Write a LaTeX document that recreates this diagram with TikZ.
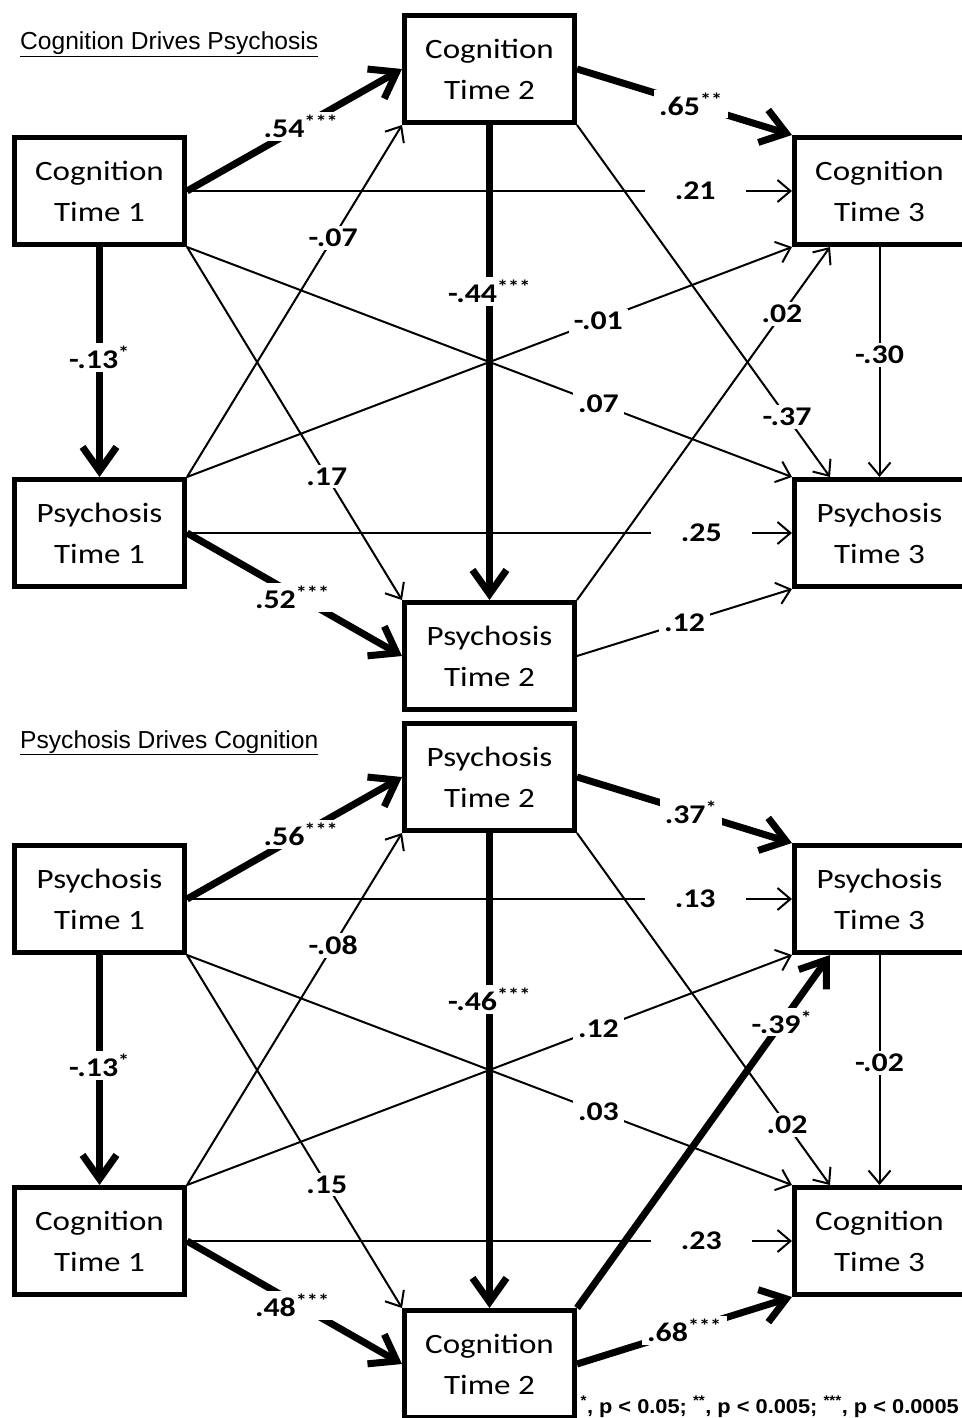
\documentclass[tikz,border=0pt]{standalone}
\usepackage{fontspec}
\setmainfont{Carlito}[FakeStretch=1.18]
\newfontfamily\titlefont{Liberation Sans}
\newfontfamily\notefont{Liberation Sans}[FakeStretch=1.09]
\usetikzlibrary{arrows.meta}

\begin{document}
\begin{tikzpicture}[x=1pt,y=-1pt]
  \tikzstyle{box}=[draw,line width=5pt,minimum width=170pt,minimum height=107pt,align=center,inner sep=0pt,font=\fontsize{28}{41}\selectfont]
  \tikzstyle{weak}=[line width=2pt,-{Straight Barb[length=13pt,width=22pt]}]
  \tikzstyle{strong}=[line width=7pt,-{Straight Barb[length=24pt,width=34pt]}]
  \tikzstyle{coef}=[fill=white,inner xsep=5pt,inner ysep=3pt,font=\fontsize{27}{30}\selectfont\bfseries]
  \tikzstyle{hcoef}=[coef,inner xsep=30pt]
  \tikzstyle{heading}=[anchor=base west,inner sep=0pt,font=\titlefont\fontsize{24.6}{28}\selectfont]
  \useasboundingbox (0,0) rectangle (961,1418);

  % cognition drives psychosis
  \node [heading] (title1) at (20,50) {\underline{Cognition Drives Psychosis}};
  \begin{scope}
    \node [box] (c1) at (99.5,191) {Cognition\\Time 1};
    \node [box] (c2) at (489.5,69) {Cognition\\Time 2};
    \node [box] (c3) at (879.5,191) {Cognition\\Time 3};
    \node [box] (p1) at (99.5,533) {Psychosis\\Time 1};
    \node [box] (p2) at (489.5,656) {Psychosis\\Time 2};
    \node [box] (p3) at (879.5,533) {Psychosis\\Time 3};
    \path (c1.east) edge [weak] node[hcoef,pos=.84] {.21} (c3.west);
    \path (c1.south east) edge [weak] node[coef,pos=.65] {.17} (p2.north west);
    \path (c1.south east) edge [weak] node[coef,pos=.68] {.07} (p3.north west);
    \path (p1.north east) edge [weak] node[coef,pos=.68] {-.07} (c2.south west);
    \path (p1.north east) edge [weak] node[coef,pos=.68] {-.01} (c3.south west);
    \path (p1.east) edge [weak] node[hcoef,pos=.85] {.25} (p3.west);
    \path (c2.south east) edge [weak] node[coef,pos=.83] {-.37} ([xshift=38pt]p3.north west);
    \path (p2.north east) edge [weak] node[coef,pos=.81] {.02} ([xshift=38pt]c3.south west);
    \path (p2.east) edge [weak] node[coef,pos=.5] {.12} (p3.south west);
    \path (c3.south) edge [weak] node[coef,pos=.47] {-.30} (p3.north);
    \path (c1.east) edge [strong] node[coef,pos=.53] {.54\textsuperscript{***}} (c2.west);
    \path (c1.south) edge [strong] node[coef,pos=.48] {-.13\textsuperscript{*}} (p1.north);
    \path (p1.east) edge [strong] node[coef,pos=.49,yshift=-4pt] {.52\textsuperscript{***}} (p2.west);
    \path (c2.east) edge [strong] node[coef,pos=.53] {.65\textsuperscript{**}} (c3.north west);
    \path (c2.south) edge [strong] node[coef,pos=.35] {-.44\textsuperscript{***}} (p2.north);
  \end{scope}

  % psychosis drives cognition
  \node [heading] (title2) at (20,748) {\underline{Psychosis Drives Cognition}};
  \begin{scope}[yshift=-708pt]
    \node [box] (bp1) at (99.5,191) {Psychosis\\Time 1};
    \node [box] (bp2) at (489.5,69) {Psychosis\\Time 2};
    \node [box] (bp3) at (879.5,191) {Psychosis\\Time 3};
    \node [box] (bc1) at (99.5,533) {Cognition\\Time 1};
    \node [box] (bc2) at (489.5,656) {Cognition\\Time 2};
    \node [box] (bc3) at (879.5,533) {Cognition\\Time 3};
    \path (bp1.east) edge [weak] node[hcoef,pos=.84] {.13} (bp3.west);
    \path (bp1.south east) edge [weak] node[coef,pos=.65] {.15} (bc2.north west);
    \path (bp1.south east) edge [weak] node[coef,pos=.68] {.03} (bc3.north west);
    \path (bc1.north east) edge [weak] node[coef,pos=.68] {-.08} (bp2.south west);
    \path (bc1.north east) edge [weak] node[coef,pos=.68] {.12} (bp3.south west);
    \path (bc1.east) edge [weak] node[hcoef,pos=.85] {.23} (bc3.west);
    \path (bp2.south east) edge [weak] node[coef,pos=.83] {.02} ([xshift=38pt]bc3.north west);
    \path (bp3.south) edge [weak] node[coef,pos=.47] {-.02} (bc3.north);
    \path (bp1.east) edge [strong] node[coef,pos=.53] {.56\textsuperscript{***}} (bp2.west);
    \path (bp1.south) edge [strong] node[coef,pos=.48] {-.13\textsuperscript{*}} (bc1.north);
    \path (bc1.east) edge [strong] node[coef,pos=.49,yshift=-4pt] {.48\textsuperscript{***}} (bc2.west);
    \path (bp2.east) edge [strong] node[coef,pos=.53] {.37\textsuperscript{*}} (bp3.north west);
    \path (bp2.south) edge [strong] node[coef,pos=.35] {-.46\textsuperscript{***}} (bc2.north);
    \path (bc2.north east) edge [strong] node[coef,pos=.81] {-.39\textsuperscript{*}} ([xshift=38pt]bp3.south west);
    \path (bc2.east) edge [strong] node[coef,pos=.5] {.68\textsuperscript{***}} (bc3.south west);
  \end{scope}

  \node [anchor=base east,inner sep=0pt,font=\notefont\bfseries\fontsize{20}{24}\selectfont] (note) at (959,1413)
    {\textsuperscript{*}, p < 0.05; \textsuperscript{**}, p < 0.005; \textsuperscript{***}, p < 0.0005};
\end{tikzpicture}
\end{document}
